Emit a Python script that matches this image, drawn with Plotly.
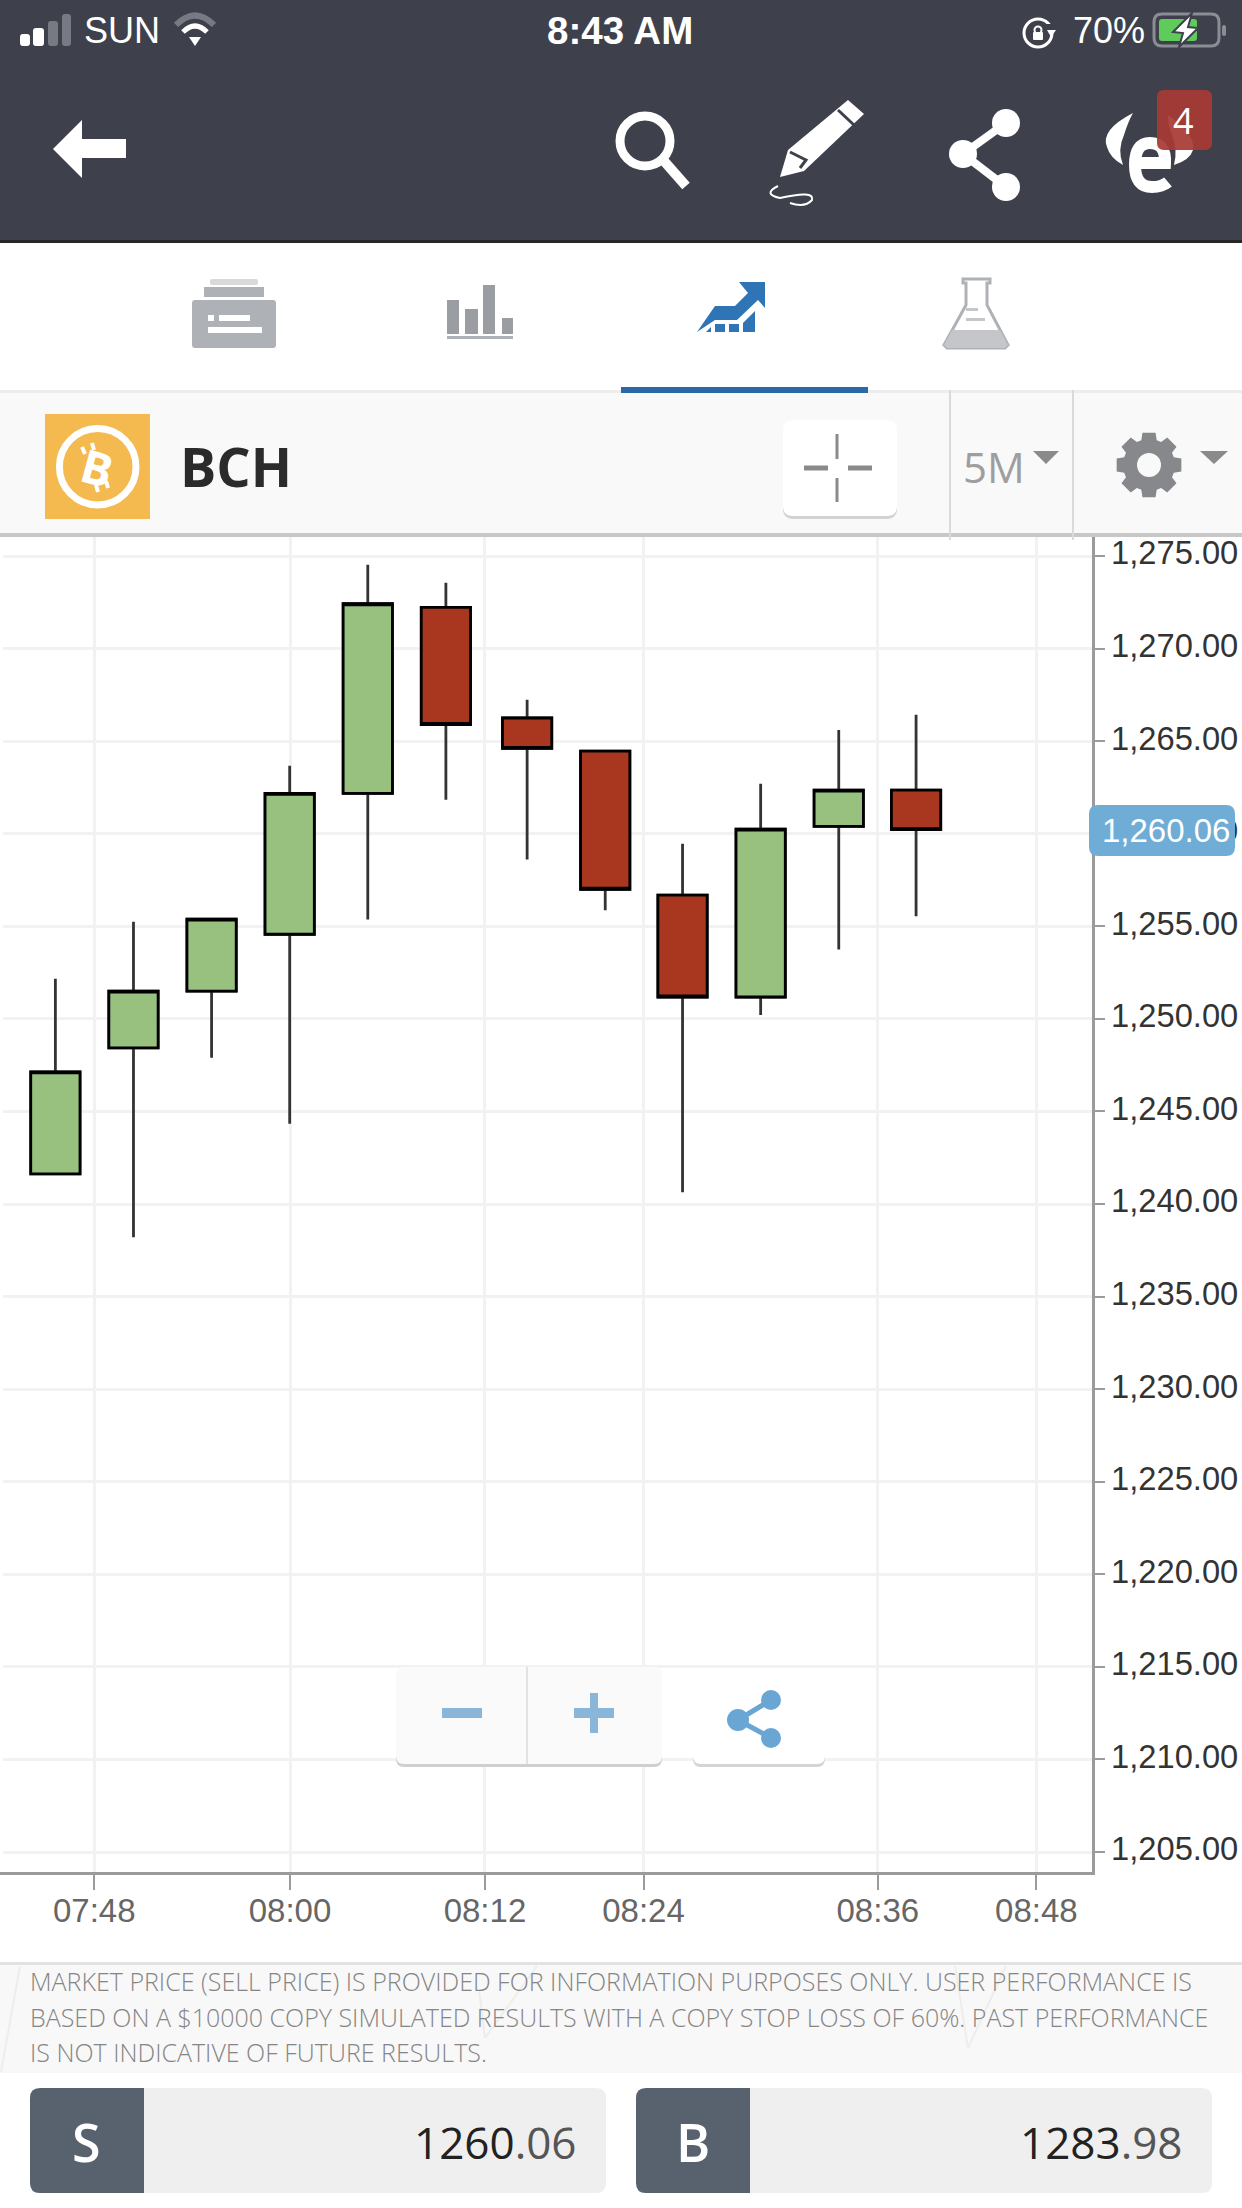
import math
import plotly.graph_objects as go

W, H = 1242, 2208

# --- chart data -------------------------------------------------------------
candle_slots = [0, 1, 2, 3, 4, 5, 6.04, 7.04, 8.03, 9.03, 10.03, 11.02]
open_prices = [1241.63, 1248.43, 1251.50, 1254.57, 1262.18, 1272.22, 1266.25, 1264.46, 1256.68, 1251.18, 1260.40, 1262.35]
high_prices = [1252.17, 1255.24, 1255.39, 1263.67, 1274.53, 1273.56, 1267.24, 1264.46, 1259.46, 1262.70, 1265.60, 1266.42]
low_prices = [1241.63, 1238.21, 1247.90, 1244.34, 1255.37, 1261.84, 1258.61, 1255.86, 1240.64, 1250.21, 1253.75, 1255.54]
close_prices = [1247.14, 1251.50, 1255.39, 1262.18, 1272.42, 1265.90, 1264.61, 1257.00, 1251.18, 1260.25, 1262.35, 1260.22]
time_tick_slots = [0.498, 3.004, 5.50, 7.53, 10.53, 12.56]
time_tick_labels = ["07:48", "08:00", "08:12", "08:24", "08:36", "08:48"]
price_ticks = [1205, 1210, 1215, 1220, 1225, 1230, 1235, 1240, 1245, 1250, 1255, 1260, 1265, 1270, 1275]
current_price = "1,260.06"

UP, DOWN = "#98C17F", "#A9361F"
SANS = "Liberation Sans"
OPEN = "Open Sans"

# --- pixel helpers for the app chrome ---------------------------------------
def fx(x): return x / W
def fy(y): return 1 - y / H

shapes, notes = [], []

def path(cmds, fill="rgba(0,0,0,0)", color=None, w=0):
    s = []
    for c in cmds:
        if isinstance(c, str):
            s.append(c)
        else:
            s.append(f"{fx(c[0]):.5f},{fy(c[1]):.5f}")
    shapes.append(dict(type="path", xref="paper", yref="paper", path=" ".join(s), fillcolor=fill,
                       line=dict(color=color or "rgba(0,0,0,0)", width=w), layer="above"))

def rect(x0, y0, x1, y1, fill):
    shapes.append(dict(type="rect", xref="paper", yref="paper", x0=fx(x0), x1=fx(x1), y0=fy(y0), y1=fy(y1),
                       fillcolor=fill, line=dict(width=0), layer="above"))

def rrect(x0, y0, x1, y1, r, fill, square_right=False, color=None, w=0):
    rr = 0 if square_right else r
    path(["M", (x0 + r, y0), "L", (x1 - rr, y0), "Q", (x1, y0), (x1, y0 + rr), "L", (x1, y1 - rr), "Q", (x1, y1), (x1 - rr, y1),
          "L", (x0 + r, y1), "Q", (x0, y1), (x0, y1 - r), "L", (x0, y0 + r), "Q", (x0, y0), (x0 + r, y0), "Z"], fill=fill, color=color, w=w)

def circ(cx, cy, r, fill="rgba(0,0,0,0)", color=None, w=0):
    shapes.append(dict(type="circle", xref="paper", yref="paper", x0=fx(cx - r), x1=fx(cx + r), y0=fy(cy - r), y1=fy(cy + r),
                       fillcolor=fill, line=dict(color=color or "rgba(0,0,0,0)", width=w), layer="above"))

def seg(x0, y0, x1, y1, color, w):
    shapes.append(dict(type="line", xref="paper", yref="paper", x0=fx(x0), x1=fx(x1), y0=fy(y0), y1=fy(y1),
                       line=dict(color=color, width=w), layer="above"))

def poly(pts, fill, color=None, w=0):
    c = ["M", pts[0]]
    for p in pts[1:]:
        c += ["L", p]
    path(c + ["Z"], fill=fill, color=color, w=w)

def text(x, y, s, size, color, font=SANS, anchor="center", angle=0, weight=None):
    f = dict(family=font, size=size, color=color)
    if weight:
        f["weight"] = weight
    notes.append(dict(xref="paper", yref="paper", x=fx(x), y=fy(y), text=s, showarrow=False, xanchor=anchor, yanchor="middle",
                      font=f, textangle=angle, borderpad=0, borderwidth=0))

# header
HEAD = "#3E414B"
rect(0, 0, W, 240, HEAD)
rect(0, 240, W, 243, "#262626")
for (x0, x1, top, col) in [(20, 30, 34, "#FFFFFF"), (33, 44, 28, "#FFFFFF"), (48, 58, 21, "#777A82"), (62, 71, 14, "#777A82")]:
    rrect(x0, top, x1, 46, 3, col)
text(84, 31, "SUN", 36, "#FFFFFF", anchor="left")
path(["M", (176, 25), "Q", (195, 6), (214, 25)], color="#777A82", w=6)
path(["M", (183, 32), "Q", (195, 20), (207, 32)], color="#FFFFFF", w=5)
poly([(189, 37), (201, 37), (195, 46)], "#FFFFFF")
text(620, 31, "<b>8:43 AM</b>", 38.5, "#FFFFFF")
circ(1038, 33, 14, color="#FFFFFF", w=3)
rect(1046, 24, 1056, 31, HEAD)
poly([(1047, 30), (1056, 30), (1051, 37)], "#FFFFFF")
circ(1038, 30, 3.5, color="#FFFFFF", w=2)
rrect(1033, 32, 1043, 40, 1, "#FFFFFF")
text(1145, 31, "70%", 36, "#FFFFFF", anchor="right")
rrect(1154, 14, 1219, 46, 8, "rgba(0,0,0,0)", color="#8A8D94", w=3)
rrect(1159, 19, 1197, 41, 3, "#5FCB5B")
rrect(1222, 25, 1226, 36, 2, "#8A8D94")
poly([(1192, 13), (1173, 32), (1183, 33), (1179, 47), (1198, 28), (1188, 27)], "#FFFFFF", color=HEAD, w=2)

poly([(53, 149), (82, 120), (82, 139), (126, 139), (126, 158), (82, 158), (82, 178)], "#FFFFFF")
circ(645, 141, 25, color="#FFFFFF", w=9)
seg(664, 161, 686, 186, "#FFFFFF", 10)
poly([(780, 177), (788, 150), (848, 100), (864, 114), (804, 171)], "#FFFFFF")
seg(838, 110, 854, 125, HEAD, 3)
path(["M", (790, 152), "L", (806, 160), "L", (800, 168)], color=HEAD, w=3)
path(["M", (778, 186), "Q", (762, 194), (780, 198), "Q", (815, 190), (812, 200), "Q", (805, 208), (790, 203)], color="#FFFFFF", w=2)
for (a, b) in [((1006, 123), (963, 154)), ((963, 154), (1006, 187))]:
    seg(a[0], a[1], b[0], b[1], "#FFFFFF", 8)
for (cx, cy) in [(1006, 123), (963, 154), (1006, 187)]:
    circ(cx, cy, 14, "#FFFFFF")
path(["M", (1133, 113), "Q", (1100, 130), (1107, 147), "Q", (1110, 158), (1123, 165), "Q", (1117, 150), (1124, 135), "Q", (1128, 122), (1133, 113), "Z"], fill="#FFFFFF")
path(["M", (1168, 115), "Q", (1196, 135), (1193, 150), "Q", (1190, 160), (1174, 165), "Q", (1178, 150), (1172, 135), "Q", (1168, 125), (1168, 115), "Z"], fill="#FFFFFF")
path(["M", (1135, 163), "L", (1165, 163), "Q", (1166, 143), (1150, 143), "Q", (1135, 143), (1135, 165), "Q", (1135, 187), (1152, 187), "Q", (1162, 187), (1168, 182)], color="#FFFFFF", w=12)
rrect(1157, 90, 1212, 150, 7, "rgba(168,58,53,0.93)")
text(1183, 120, "4", 36, "#FFFFFF", font=OPEN)

# tab bar
rect(0, 243, W, 390, "#FFFFFF")
rect(0, 390, W, 393, "#EDEDED")
rrect(210, 279, 258, 285, 2, "#D8D9DB")
rect(204, 287, 264, 297, "#AEB1B6")
rrect(192, 300, 276, 348, 3, "#AEB1B6")
rect(208, 315, 214, 321, "#FFFFFF")
rect(219, 315, 250, 321, "#FFFFFF")
rect(208, 327, 262, 333, "#FFFFFF")
for (x0, x1, top) in [(447, 459, 300), (465, 478, 309), (483, 495, 285), (502, 513, 318)]:
    rect(x0, top, x1, 334, "#9A9DA2")
rect(447, 336, 513, 339, "#AEB1B6")
BLUE = "#2F74B5"
poly([(697, 332), (715, 306), (735, 306), (748, 293), (739, 282), (765, 282), (765, 308), (758, 300), (737, 320), (715, 320)], BLUE)
poly([(706, 332), (711, 327), (711, 332)], BLUE)
rect(715, 324, 725, 332, BLUE)
rect(729, 324, 739, 332, BLUE)
poly([(743, 323), (755, 311), (755, 332), (743, 332)], BLUE)
poly([(963, 279), (990, 279), (990, 283), (987, 283), (987, 305), (1008, 345), (1005, 348), (947, 348), (944, 345), (966, 305), (966, 283), (963, 283)],
     "#FFFFFF", color="#AEB1B6", w=3)
poly([(952, 330), (1000, 330), (1008, 345), (1005, 348), (947, 348), (944, 345)], "#C4C6C9")
rect(966, 318, 985, 321, "#C4C6C9")
rect(966, 308, 978, 311, "#C4C6C9")
rect(621, 387, 868, 393, "#2B69A6")

# instrument toolbar
rect(0, 393, W, 533, "#F9F9F9")
rect(0, 533, W, 537, "#C8C8C8")
seg(950, 390, 950, 540, "#DADADA", 2)
seg(1073, 390, 1073, 540, "#DADADA", 2)
rect(45, 414, 150, 519, "#F4B94F")
circ(97.7, 466.7, 38.3, color="#FFFFFF", w=7)
text(97, 467, "<b>B</b>", 46, "#FFFFFF", font=OPEN, angle=15)
for (a, b) in [((82, 447), (85, 454)), ((92, 443), (94, 450)), ((98, 492), (96, 485)), ((108, 488), (106, 481))]:
    seg(a[0], a[1], b[0], b[1], "#FFFFFF", 4)
text(180, 466, "<b>BCH</b>", 54, "#2B2B2B", font=OPEN, anchor="left")
rrect(783, 423, 897, 519, 10, "#D2D2D2")
rrect(783, 420, 897, 516, 10, "#FFFFFF")
seg(837, 434, 837, 459, "#8A8A8A", 3)
seg(837, 478, 837, 502, "#8A8A8A", 3)
seg(804, 468, 828, 468, "#8A8A8A", 5)
seg(848, 468, 872, 468, "#8A8A8A", 5)
text(963, 466, "5M", 42, "#9E9E9E", font=OPEN, anchor="left")
poly([(1033, 451), (1059, 451), (1046, 464)], "#8A8A8A")
gear = []
for i in range(8):
    a = i * math.pi / 4
    for d, r in [(-0.30, 26), (-0.20, 33), (0.20, 33), (0.30, 26)]:
        gear.append((1149 + r * math.cos(a + d), 465 + r * math.sin(a + d)))
poly(gear, "#86888C")
circ(1149, 465, 12, "#F9F9F9")
poly([(1200, 451), (1228, 451), (1214, 464)], "#8A8A8A")

# left margin where the horizontal grid stops short of the screen edge
rect(0, 538, 3, 1870, "#FFFFFF")

# zoom and share buttons over the chart
rrect(396, 1670, 662, 1767, 8, "#CFCFCF")
rrect(396, 1667, 662, 1764, 8, "#FAFAFA")
seg(527, 1667, 527, 1764, "#E2E2E2", 2)
rect(442, 1708, 482, 1718, "#8AB6DA")
rect(574, 1708, 614, 1718, "#8AB6DA")
rect(590, 1693, 598, 1733, "#8AB6DA")
rrect(693, 1674, 825, 1767, 8, "#D4D4D4")
rrect(693, 1671, 825, 1764, 8, "#FFFFFF")
seg(771, 1700, 738, 1720, "#6AA6D4", 5)
seg(738, 1720, 771, 1738, "#6AA6D4", 5)
circ(771, 1700, 10, "#6AA6D4")
circ(738, 1720, 11, "#6AA6D4")
circ(771, 1738, 10, "#6AA6D4")

# current price flag
rrect(1089, 805, 1235, 856, 9, "#6FADD6")
text(1166, 831, current_price, 33, "#FFFFFF")

# disclaimer band
rect(0, 1962, W, 2073, "#F8F8F8")
rect(0, 1962, W, 1965, "#E2E2E2")
for (a, b) in [((20, 1966), (1, 2072)), ((537, 1966), (485, 2038)), ((479, 1990), (485, 2038)), ((1006, 1966), (968, 2048)), ((955, 1966), (968, 2048))]:
    seg(a[0], a[1], b[0], b[1], "#EDEDED", 2)
disclaimer = ["MARKET PRICE (SELL PRICE) IS PROVIDED FOR INFORMATION PURPOSES ONLY. USER PERFORMANCE IS",
              "BASED ON A $10000 COPY SIMULATED RESULTS WITH A COPY STOP LOSS OF 60%. PAST PERFORMANCE",
              "IS NOT INDICATIVE OF FUTURE RESULTS."]
for y, line in zip([1980.5, 2016.5, 2052], disclaimer):
    text(30, y, line, 25, "#858585", font=OPEN, anchor="left", weight=300)

# sell / buy bar
rect(0, 2073, W, H, "#FFFFFF")
for (x0, x1, xd, letter, xl, whole, frac, xr) in [(30, 606, 144, "S", 86, "1260", ".06", 577), (636, 1212, 750, "B", 693, "1283", ".98", 1183)]:
    rrect(x0, 2088, x1, 2193, 10, "#EFEFEF")
    rrect(x0, 2088, xd, 2193, 10, "#58626F", square_right=True)
    text(xl, 2141, letter, 52, "#FFFFFF", font=OPEN, weight=600)
    text(xr, 2142, f"{whole}<span style='color:#555555'>{frac}</span>", 44, "#222222", font=OPEN, anchor="right", weight=500)

# --- figure -----------------------------------------------------------------
fig = go.Figure()
fig.add_trace(go.Candlestick(
    x=candle_slots, open=open_prices, high=high_prices, low=low_prices, close=close_prices,
    increasing=dict(fillcolor=UP, line=dict(color="#333333", width=2.8)),
    decreasing=dict(fillcolor=DOWN, line=dict(color="#333333", width=2.8)),
    whiskerwidth=0, hoverinfo="skip", showlegend=False))
body_low = [min(o, c) for o, c in zip(open_prices, close_prices)]
body_high = [max(o, c) for o, c in zip(open_prices, close_prices)]
fig.add_trace(go.Candlestick(
    x=candle_slots, open=open_prices, high=body_high, low=body_low, close=close_prices,
    increasing=dict(fillcolor=UP, line=dict(color="#000000", width=2.8)),
    decreasing=dict(fillcolor=DOWN, line=dict(color="#000000", width=2.8)),
    whiskerwidth=0, hoverinfo="skip", showlegend=False))

AX = "#9B9B9B"
fig.update_layout(
    width=W, height=H, margin=dict(l=0, r=0, t=0, b=0, pad=0, autoexpand=False), paper_bgcolor="#FFFFFF", plot_bgcolor="#FFFFFF",
    showlegend=False, boxgap=0.09, shapes=shapes, annotations=notes,
    xaxis=dict(domain=[0, 1091.5 / W], range=[-0.709, 13.266], tickmode="array", tickvals=time_tick_slots, ticktext=time_tick_labels,
               showgrid=True, gridcolor="#F2F2F2", gridwidth=3, zeroline=False, rangeslider=dict(visible=False),
               showline=True, linecolor=AX, linewidth=3, ticks="outside", ticklen=15, tickwidth=2, tickcolor=AX,
               ticklabelstandoff=-8, tickfont=dict(family=SANS, size=33, color="#666666")),
    yaxis=dict(domain=[fy(1872), fy(536)], range=[1203.92, 1276.08], side="right", tickmode="array", tickvals=price_ticks,
               tickformat=",.2f", showgrid=True, gridcolor="#F2F2F2", gridwidth=3, zeroline=False,
               showline=True, linecolor=AX, linewidth=3, ticks="outside", ticklen=10, tickwidth=2, tickcolor=AX,
               ticklabelshift=-3, tickfont=dict(family=SANS, size=32.7, color="#333333")),
)
fig.write_html("out.html", config=dict(displayModeBar=False),
               post_script="document.body.style.margin='0';document.documentElement.style.overflow='hidden';"
                           "var gd=document.querySelector('.plotly-graph-div');gd.style.position='absolute';gd.style.top='0';gd.style.left='0';")
